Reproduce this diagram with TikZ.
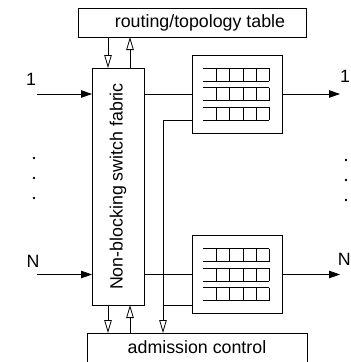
\documentclass[tikz,border=0pt]{standalone}
\usepackage{fontspec}
\setmainfont{Liberation Sans}
\usetikzlibrary{arrows.meta}
\begin{document}
\begin{tikzpicture}[x=1pt,y=-1pt,
  every node/.style={inner sep=0pt,outer sep=0pt},
  box/.style={draw,line width=0.8pt,rectangle,anchor=north west},
  lbl/.style={font=\fontsize{17.8}{20}\selectfont},
  ln/.style={line width=0.8pt},
  fa/.style={ln,-{Triangle[length=11pt,width=7.5pt]}},
  oa/.style={ln,-{Triangle[open,length=13pt,width=7.5pt,fill=white]}},
  qline/.style={line width=0.8pt}
]
\useasboundingbox (0,0) rectangle (351,362);
\clip (0,0) rectangle (351,362);

% boxes
\node[box,minimum width=228pt,minimum height=29pt] (rt) at (78,8) {};
\node[lbl] (rttext) at (200,23) {routing/topology table};
\node[box,minimum width=52pt,minimum height=237pt] (fab) at (92,68) {};
\node[lbl,rotate=90] (fabtext) at (118,186.5) {Non-blocking switch fabric};
\node[box,minimum width=90pt,minimum height=78pt] (q1) at (192,55) {};
\node[box,minimum width=90pt,minimum height=78pt] (q2) at (192,235.5) {};
\node[box,minimum width=220pt,minimum height=31pt] (ac) at (87,333) {};
\node[lbl] (actext) at (197,347) {admission control};

% queues
\foreach \top in {55,235.5}{
  \foreach \r in {0,1,2}{
    \pgfmathsetmacro{\ya}{\top+13+19.5*\r}
    \pgfmathsetmacro{\yb}{\ya+13}
    \draw[qline] (203,\ya) -- (269,\ya);
    \draw[qline] (203,\yb) -- (269,\yb);
    \foreach \xx in {216,229.5,243,256,269}{
      \draw[qline] (\xx,\ya) -- (\xx,\yb);
    }
  }
}

% labels
\node[lbl] (l1) at (31,79) {1};
\node[lbl] (lN) at (33,261) {N};
\node[lbl] (r1) at (345,76.5) {1};
\node[lbl] (rN) at (344.2,259) {N};

% dots
\foreach \yy [count=\i] in {158,178,198}{
  \fill (34,\yy) circle (1.3pt);
  \fill (346,\yy+2) circle (1.3pt);
}

% coordinates
\coordinate (in1) at (37,94);
\coordinate (inN) at (37,274.5);
\coordinate (out1) at (340,94);
\coordinate (outN) at (340,274.5);
\coordinate (c1) at (192,120);
\coordinate (c2) at (192,305);
\coordinate (ctl) at (163,333);

% input/output arrows
\draw[fa] (in1) -- (fab.west |- in1);
\draw[fa] (inN) -- (fab.west |- inN);
\draw[fa] (q1.east) -- (out1);
\draw[fa] (q2.east) -- (outN);

% fabric to queues
\draw[ln] (fab.east |- q1.west) -- (q1.west);
\draw[ln] (fab.east |- q2.west) -- (q2.west);

% control lines
\draw[oa] (c1) -| (ctl);
\draw[ln] (c2) -- (ctl |- c2);

% fabric <-> routing table
\draw[oa] (108,0 |- rt.south) -- (108,0 |- fab.north);
\draw[oa] (130,0 |- fab.north) -- (130,0 |- rt.south);

% fabric <-> admission
\draw[oa] (108,0 |- fab.south) -- (108,0 |- ac.north);
\draw[oa] (130,0 |- ac.north) -- (130,0 |- fab.south);
\end{tikzpicture}
\end{document}
